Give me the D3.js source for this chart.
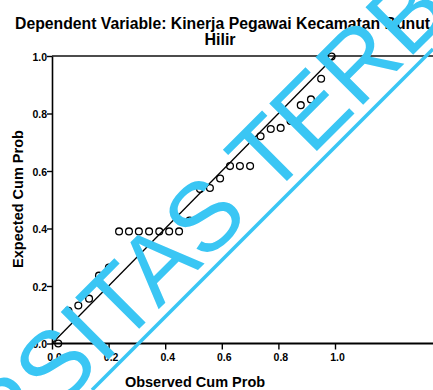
<!DOCTYPE html>
<html>
<head>
<meta charset="utf-8">
<script src="https://cdn.jsdelivr.net/npm/d3@7/dist/d3.min.js"></script>
<style>
  html, body { margin: 0; padding: 0; background: #fff; }
  svg { display: block; }
  text { font-family: "Liberation Sans", Arial, Helvetica, sans-serif; }
</style>
</head>
<body>
<svg id="chart" width="433" height="390"></svg>
<script>
// Normal P-P plot of the regression standardized residual
const titleLines = ["Dependent Variable: Kinerja Pegawai Kecamatan Bunut", "Hilir"];
const xTitle = "Observed Cum Prob";
const yTitle = "Expected Cum Prob";
const tickValues = [0, 0.2, 0.4, 0.6, 0.8, 1.0];

const observed = [0.022, 0.058, 0.093, 0.131, 0.166, 0.201, 0.237, 0.272, 0.307, 0.343,
                  0.379, 0.414, 0.449, 0.486, 0.523, 0.558, 0.594, 0.629, 0.664, 0.700,
                  0.737, 0.773, 0.808, 0.843, 0.879, 0.915, 0.951, 0.988];
const expected = [0.000, 0.114, 0.132, 0.156, 0.236, 0.264, 0.390, 0.390, 0.390, 0.390,
                  0.390, 0.390, 0.390, 0.428, 0.537, 0.541, 0.574, 0.617, 0.617, 0.617,
                  0.721, 0.746, 0.750, 0.774, 0.829, 0.849, 0.921, 0.998];

const watermarkText = "UNIVERSITAS TERBUKA";

const svg = d3.select("#chart");
const W = 433, H = 390;

const x = d3.scaleLinear().domain([0, 1]).range([52, 335]);
const y = d3.scaleLinear().domain([0, 1]).range([343.5, 56]);

// title
const title = svg.append("g").attr("font-weight", "bold").attr("fill", "#000");
title.append("text")
  .attr("x", 15).attr("y", 29)
  .attr("font-size", 16)
  .attr("textLength", 415).attr("lengthAdjust", "spacingAndGlyphs")
  .text(titleLines[0]);
title.append("text")
  .attr("x", 220).attr("y", 45)
  .attr("text-anchor", "middle")
  .attr("font-size", 16)
  .text(titleLines[1]);

// frame: top and bottom run across the whole width
svg.append("line").attr("x1", x(0)).attr("x2", W).attr("y1", y(1)).attr("y2", y(1))
  .attr("stroke", "#111").attr("stroke-width", 1.6);

// axes
const xAxis = d3.axisBottom(x).tickValues(tickValues).tickFormat(d3.format(".1f"))
  .tickSize(6).tickSizeOuter(0);
const gx = svg.append("g").attr("transform", `translate(0,${y(0)})`).call(xAxis);
gx.select(".domain").remove();
gx.selectAll(".tick line").attr("stroke", "#000").attr("stroke-width", 1.4);
gx.selectAll(".tick text").attr("font-size", 10.5).attr("font-weight", "bold")
  .attr("fill", "#000").attr("dx", 2).attr("y", 10);
svg.append("line").attr("x1", x(0)).attr("x2", W).attr("y1", y(0)).attr("y2", y(0))
  .attr("stroke", "#000").attr("stroke-width", 2);

const yAxis = d3.axisLeft(y).tickValues(tickValues).tickFormat(d3.format(".1f"))
  .tickSize(5).tickSizeOuter(0);
const gy = svg.append("g").attr("transform", `translate(${x(0)},0)`).call(yAxis);
gy.select(".domain").attr("stroke", "#000").attr("stroke-width", 1.6);
gy.selectAll(".tick line").attr("stroke", "#000").attr("stroke-width", 1.4);
gy.selectAll(".tick text").attr("font-size", 10.5).attr("font-weight", "bold")
  .attr("fill", "#000").attr("x", -5).attr("dy", "0.4em");

// axis titles
svg.append("text")
  .attr("x", 195).attr("y", 387)
  .attr("text-anchor", "middle")
  .attr("font-size", 14.5).attr("font-weight", "bold")
  .text(xTitle);
svg.append("text")
  .attr("transform", `translate(23,199) rotate(-90)`)
  .attr("text-anchor", "middle")
  .attr("font-size", 14.5).attr("font-weight", "bold")
  .text(yTitle);

// reference diagonal
svg.append("line")
  .attr("x1", x(0)).attr("y1", y(0)).attr("x2", x(1)).attr("y2", y(1))
  .attr("stroke", "#000").attr("stroke-width", 1.3);

// points
const pts = observed.map((o, i) => ({ o, e: expected[i] }));
svg.append("g").selectAll("circle").data(pts).join("circle")
  .attr("cx", d => x(d.o)).attr("cy", d => y(d.e)).attr("r", 3.4)
  .attr("fill", "none").attr("stroke", "#000").attr("stroke-width", 1.3);

// watermark stamped across the page
const wm = svg.append("g").attr("fill", "#3ac6f4");
wm.append("text")
  .attr("transform", "translate(-206,674) rotate(-45)")
  .attr("font-size", 98)
  .text(watermarkText);
wm.append("line")
  .attr("x1", 92).attr("y1", 390).attr("x2", 433).attr("y2", 49)
  .attr("stroke", "#3ac6f4").attr("stroke-width", 3.5);
</script>
</body>
</html>
